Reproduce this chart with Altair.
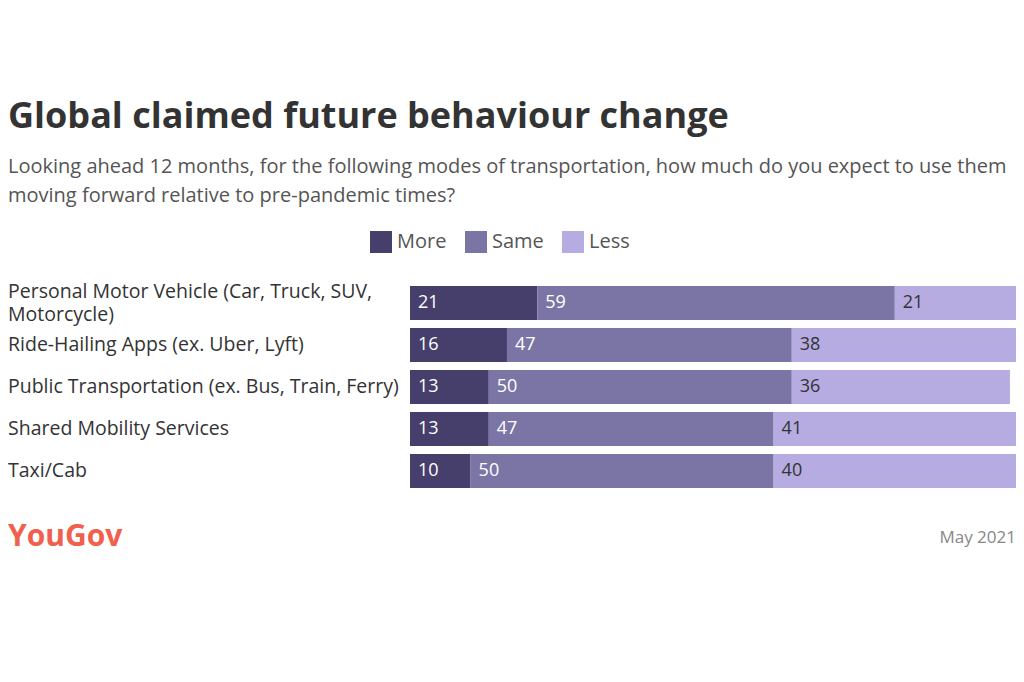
import altair as alt
import pandas as pd

categories = [
    "Personal Motor Vehicle (Car, Truck, SUV,\nMotorcycle)",
    "Ride-Hailing Apps (ex. Uber, Lyft)",
    "Public Transportation (ex. Bus, Train, Ferry)",
    "Shared Mobility Services",
    "Taxi/Cab",
]
more = [21, 16, 13, 13, 10]
same = [59, 47, 50, 47, 50]
less = [21, 38, 36, 41, 40]
responses = ["More", "Same", "Less"]
colors = ["#463E6B", "#7B75A5", "#B6ACE2"]

rows = []
for i, c in enumerate(categories):
    for j, (r, v) in enumerate(zip(responses, [more[i], same[i], less[i]])):
        rows.append({"category": c, "response": r, "value": v, "order": j})
df = pd.DataFrame(rows)

FONT = "Open Sans"
L = -402  # left edge of the page content, in plot coordinates
W = 606

base = alt.Chart(df).transform_stack(
    stack="value", groupby=["category"], as_=["x0", "x1"],
    sort=[alt.SortField("order", order="ascending")]
)

yenc = alt.Y("category:N", sort=categories, axis=None,
             scale=alt.Scale(paddingInner=0.19, paddingOuter=0.095))

bars = base.mark_bar().encode(
    x=alt.X("x0:Q", axis=None, scale=alt.Scale(domain=[0, 100], nice=False, zero=True)),
    x2="x1:Q",
    y=yenc,
    color=alt.Color("response:N", scale=alt.Scale(domain=responses, range=colors),
                    legend=alt.Legend(title=None, orient="none", direction="horizontal",
                                      legendX=-40, legendY=-51, symbolType="square",
                                      symbolSize=484, symbolStrokeWidth=0, symbolOpacity=1,
                                      labelFont=FONT, labelFontSize=20, labelColor="#555555",
                                      labelOffset=5, columnPadding=18)),
)

labels = base.mark_text(align="left", baseline="middle", dx=8, font=FONT, fontSize=18).encode(
    x="x0:Q",
    y=yenc,
    text="value:Q",
    color=alt.condition("datum.response == 'Less'", alt.value("#333333"), alt.value("#FFFFFF")),
)

cat_df = pd.DataFrame({"category": categories})
cat_single = alt.Chart(cat_df).transform_filter(
    "indexof(datum.category, '\\n') < 0"
).mark_text(align="left", baseline="middle", font=FONT, fontSize=19.5, color="#333333").encode(
    x=alt.value(L), y=yenc, text="category:N",
)
cat_multi = alt.Chart(cat_df).transform_filter(
    "indexof(datum.category, '\\n') >= 0"
).mark_text(align="left", baseline="middle", font=FONT, fontSize=19.5, color="#333333",
            lineBreak="\n", lineHeight=23, dy=-11.5).encode(
    x=alt.value(L), y=yenc, text="category:N",
)

def txt(s, x, y, size, color, weight="normal", align="left"):
    return alt.Chart(alt.Data(values=[{}])).mark_text(
        align=align, baseline="alphabetic", font=FONT, fontSize=size, color=color,
        fontWeight=weight
    ).encode(x=alt.value(x), y=alt.value(y), text=alt.value(s))

title = txt("Global claimed future behaviour change", L, -154, 36, "#333333", "bold")
sub1 = txt("Looking ahead 12 months, for the following modes of transportation, how much do you expect to use them",
           L, -109, 20, "#555555")
sub2 = txt("moving forward relative to pre-pandemic times?", L, -80, 20, "#555555")
logo = txt("YouGov", L, 264, 30, "#F0604D", "bold")
date = txt("May 2021", W, 261, 17, "#888888", "normal", "right")

chart = alt.layer(bars, labels, cat_single, cat_multi, title, sub1, sub2, logo, date).properties(
    width=W, height=210,
    autosize=alt.AutoSizeParams(type="none"),
    padding={"left": 402, "top": 274, "right": 0, "bottom": 100},
).configure_view(stroke=None)

chart.save("out.html", embed_options={"renderer": "svg", "actions": False})
